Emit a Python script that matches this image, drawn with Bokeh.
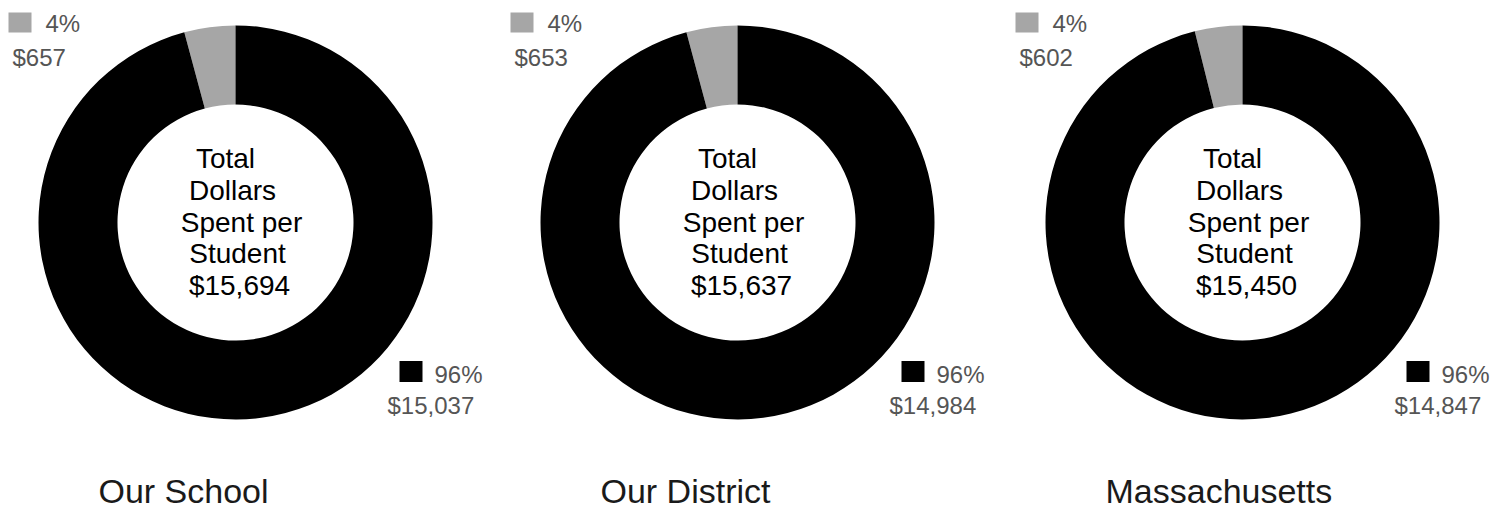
import math
from bokeh.plotting import figure
from bokeh.models import Range1d
from bokeh.core.properties import value
from bokeh.embed import file_html
from bokeh.resources import INLINE

# ---- data ----
regions = ["Our School", "Our District", "Massachusetts"]
totals = [15694, 15637, 15450]
other_dollars = [657, 653, 602]          # grey slice (4%)
main_dollars = [15037, 14984, 14847]     # black slice (96%)
center_lines = ["Total", "Dollars", "Spent per", "Student"]

# ---- layout (pixel coordinates of the 1502x510 page) ----
W, H = 1500, 510
cxs = [235, 737, 1242]
cy = 222
R_OUT, R_IN = 197, 118
GREY = "#a6a6a6"
BLACK = "#000000"
FONT = value("Liberation Sans")


def Y(ref_y):
    return H - ref_y


p = figure(width=W, height=H, output_backend="svg", toolbar_location=None,
           x_range=Range1d(0, W), y_range=Range1d(0, H),
           min_border=0, outline_line_color=None)
p.axis.visible = False
p.grid.visible = False
p.background_fill_color = "white"
p.border_fill_color = "white"

for i, cx in enumerate(cxs):
    tot = totals[i]
    frac_other = other_dollars[i] / tot
    a0 = math.pi / 2
    a1 = a0 + 2 * math.pi * frac_other
    # grey slice
    p.annular_wedge(x=[cx], y=[Y(cy)], inner_radius=R_IN, outer_radius=R_OUT,
                    start_angle=a0, end_angle=a1, direction="anticlock",
                    fill_color=GREY, line_color=None)
    # black slice
    p.annular_wedge(x=[cx], y=[Y(cy)], inner_radius=R_IN, outer_radius=R_OUT,
                    start_angle=a1, end_angle=a0 + 2 * math.pi, direction="anticlock",
                    fill_color=BLACK, line_color=None)

    pct_other = f"{round(100 * other_dollars[i] / tot)}%"
    pct_main = f"{round(100 * main_dollars[i] / tot)}%"

    # top-left legend (grey)
    p.rect(x=[cx - 215.5], y=[Y(22)], width=23, height=20,
           fill_color=GREY, line_color=None)
    p.text(x=[cx - 190], y=[Y(22.5)], text=[pct_other], text_font=FONT,
           text_font_size="24px", text_color="#555555",
           text_align="left", text_baseline="middle")
    p.text(x=[cx - 223], y=[Y(57)], text=[f"${other_dollars[i]:,}"], text_font=FONT,
           text_font_size="24px", text_color="#555555",
           text_align="left", text_baseline="middle")

    # bottom-right legend (black)
    p.rect(x=[cx + 175.5], y=[Y(371)], width=23, height=21,
           fill_color=BLACK, line_color=None)
    p.text(x=[cx + 199], y=[Y(373.5)], text=[pct_main], text_font=FONT,
           text_font_size="24px", text_color="#555555",
           text_align="left", text_baseline="middle")
    p.text(x=[cx + 152], y=[Y(405)], text=[f"${main_dollars[i]:,}"], text_font=FONT,
           text_font_size="24px", text_color="#555555",
           text_align="left", text_baseline="middle")

    # centre label
    lines = center_lines + [f"${tot:,}"]
    dx = [-10, -3, 6, 2, 4]
    dy = [-64, -32, 0, 31, 63]
    p.text(x=[cx + d for d in dx], y=[Y(cy + d) for d in dy], text=lines,
           text_font=FONT, text_font_size="28px", text_color="#000000",
           text_align="center", text_baseline="middle")

    # region title
    p.text(x=[cx - 137], y=[Y(490)], text=[regions[i]], text_font=FONT,
           text_font_size="34px", text_color="#1a1a1a",
           text_align="left", text_baseline="middle")

open("out.html", "w").write(file_html(p, INLINE))
